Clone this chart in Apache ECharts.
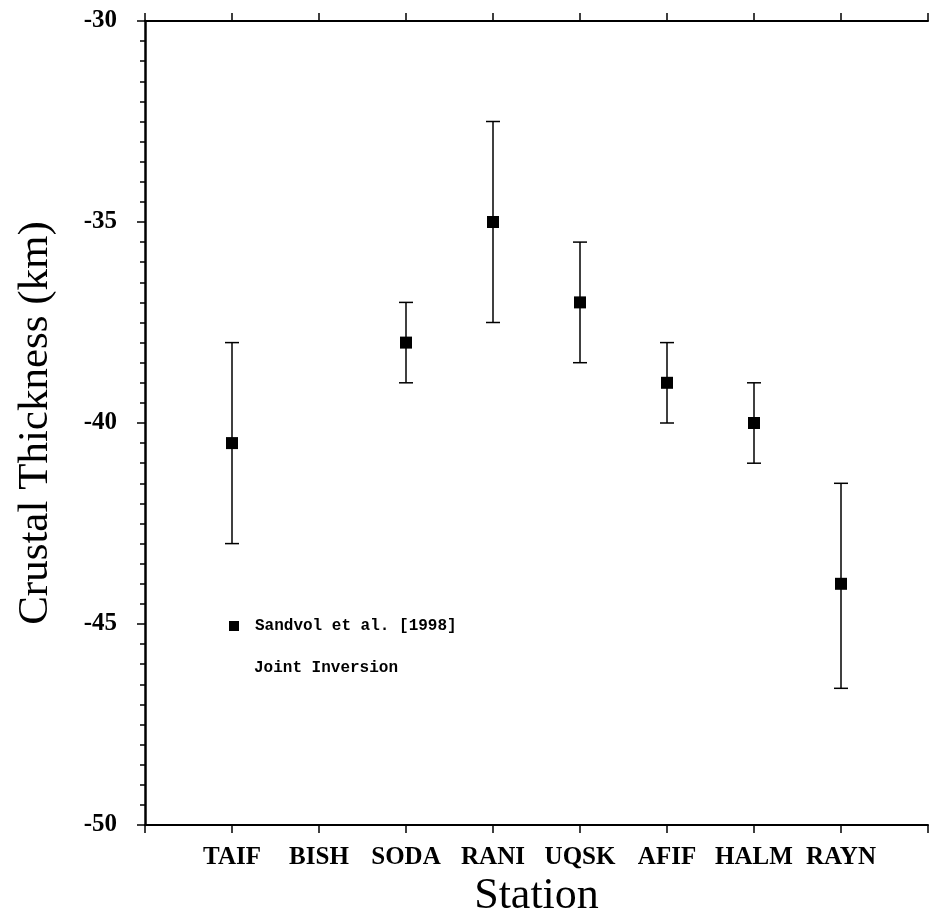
<!DOCTYPE html>
<html>
<head>
<meta charset="utf-8">
<script src="https://cdn.jsdelivr.net/npm/echarts@6/dist/echarts.min.js"></script>
<style>html,body{margin:0;padding:0;background:#fff}#c{width:930px;height:916px}</style>
</head>
<body>
<div id="c"></div>
<script>
const stations = ['TAIF','BISH','SODA','RANI','UQSK','AFIF','HALM','RAYN'];
const thickness = [-40.5, null, -38, -35, -37, -39, -40, -44];
const errUpper = [-38, null, -37, -32.5, -35.5, -38, -39, -41.5];
const errLower = [-43, null, -39, -37.5, -38.5, -40, -41, -46.6];
const yTicks = [-50, -45, -40, -35, -30];

const pts = [], bars = [];
stations.forEach((s, i) => {
  if (thickness[i] !== null) {
    pts.push([i + 1, thickness[i]]);
    bars.push([i + 1, errUpper[i], errLower[i]]);
  }
});

const chart = echarts.init(document.getElementById('c'));
const serif = 'Liberation Serif';
chart.setOption({
  animation: false,
  backgroundColor: '#fff',
  grid: { left: 145, right: 2, top: 21, bottom: 91, containLabel: false, outerBoundsMode: 'none' },
  xAxis: [{
    type: 'value', min: 0, max: stations.length + 1, interval: 1,
    position: 'bottom',
    name: 'Station', nameLocation: 'middle', nameGap: 44,
    nameTextStyle: { fontFamily: serif, fontSize: 44, color: '#000' },
    axisLine: { lineStyle: { color: '#000', width: 2 } },
    axisTick: { show: true, inside: false, length: 8, lineStyle: { color: '#000', width: 1.5 } },
    axisLabel: { margin: 20, fontFamily: serif, fontWeight: 'bold', fontSize: 25, color: '#000',
      formatter: v => (v >= 1 && v <= stations.length) ? stations[v - 1] : '' },
    splitLine: { show: false }
  }, {
    type: 'value', min: 0, max: stations.length + 1, interval: 1,
    position: 'top',
    axisLine: { lineStyle: { color: '#000', width: 2 } },
    axisTick: { show: true, inside: false, length: 8, lineStyle: { color: '#000', width: 1.5 } },
    axisLabel: { show: false },
    splitLine: { show: false }
  }],
  yAxis: {
    type: 'value', min: yTicks[0], max: yTicks[yTicks.length - 1], interval: 5,
    name: 'Crustal Thickness (km)', nameLocation: 'middle', nameGap: 88,
    nameTextStyle: { fontFamily: serif, fontSize: 43, color: '#000' },
    axisLine: { show: true, lineStyle: { color: '#000', width: 2.5 } },
    axisTick: { show: true, inside: false, length: 8, lineStyle: { color: '#000', width: 1.5 } },
    minorTick: { show: true, splitNumber: 10, length: 5, lineStyle: { color: '#000', width: 1.5 } },
    axisLabel: { margin: 28, fontFamily: serif, fontWeight: 'bold', fontSize: 25, color: '#000',
      formatter: v => yTicks.indexOf(v) >= 0 ? String(v) : '' },
    splitLine: { show: false }
  },
  legend: {
    left: 224, top: 613, orient: 'vertical',
    itemWidth: 10, itemHeight: 10, itemGap: 10,
    data: [{ name: 'Sandvol et al. [1998]', icon: 'rect', itemStyle: { color: '#000', opacity: 1 } }],
    textStyle: { fontFamily: 'Liberation Mono', fontWeight: 'bold', fontSize: 16, color: '#000', padding: [0, 0, 0, 11] }
  },
  graphic: [{
    type: 'text', left: 254, top: 660,
    style: { text: 'Joint Inversion', font: 'bold 16px "Liberation Mono"', fill: '#000' }
  }],
  series: [{
    type: 'custom', name: 'err', silent: true,
    data: bars,
    renderItem: function (params, api) {
      const x = api.value(0);
      const top = api.coord([x, api.value(1)]);
      const bot = api.coord([x, api.value(2)]);
      const hw = 7;
      const st = { stroke: '#000', lineWidth: 1.5 };
      return { type: 'group', children: [
        { type: 'line', shape: { x1: top[0], y1: top[1], x2: bot[0], y2: bot[1] }, style: st },
        { type: 'line', shape: { x1: top[0] - hw, y1: top[1], x2: top[0] + hw, y2: top[1] }, style: st },
        { type: 'line', shape: { x1: bot[0] - hw, y1: bot[1], x2: bot[0] + hw, y2: bot[1] }, style: st }
      ]};
    },
    z: 2
  }, {
    type: 'scatter', name: 'Sandvol et al. [1998]',
    data: pts, symbol: 'rect', symbolSize: 12,
    itemStyle: { color: '#000', opacity: 1 }, z: 3
  }]
});
</script>
</body>
</html>
